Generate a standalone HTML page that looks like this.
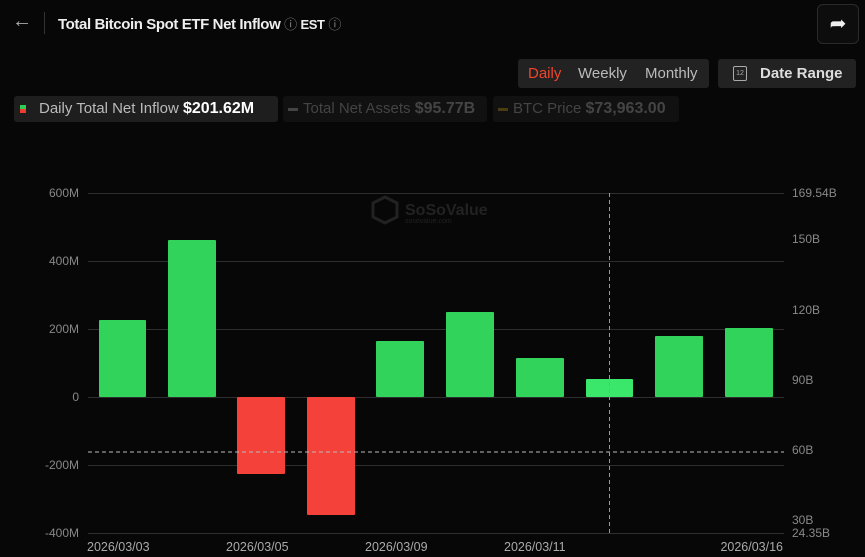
<!DOCTYPE html>
<html><head><meta charset="utf-8"><style>
body{margin:0;width:865px;height:557px;background:#070707;font-family:"Liberation Sans",sans-serif;overflow:hidden;position:relative;color:#ddd}
.a{position:absolute;white-space:nowrap}
</style></head><body>
<div class="a" style="left:12px;top:10px;font-size:20px;color:#aaa">&#8592;</div>
<div class="a" style="left:44px;top:12px;width:1px;height:22px;background:#333"></div>
<div class="a" style="left:58px;top:14px;font-size:15px;font-weight:bold;color:#eee;letter-spacing:-0.4px">Total Bitcoin Spot ETF Net Inflow <span style="font-weight:normal;color:#888;font-size:13px">ⓘ</span> <span style="font-size:13px">EST</span> <span style="font-weight:normal;color:#888;font-size:13px">ⓘ</span></div>
<div class="a" style="left:817px;top:4px;width:40px;height:38px;border:1px solid #2a2a2a;border-radius:6px;background:#0d0d0d;color:#eee;font-size:20px;text-align:center;line-height:38px">&#10150;</div>
<div class="a" style="left:518px;top:59px;width:191px;height:29px;background:#222;border-radius:3px;font-size:15px;line-height:29px">
<span style="position:absolute;left:10px;color:#f0442d">Daily</span><span style="position:absolute;left:60px;color:#bbb">Weekly</span><span style="position:absolute;left:127px;color:#bbb">Monthly</span></div>
<div class="a" style="left:718px;top:59px;width:138px;height:29px;background:#222;border-radius:3px;font-size:15px;line-height:29px;color:#ddd;font-weight:bold">
<span style="position:absolute;left:15px;top:7px;width:12px;height:13px;border:1.5px solid #aaa;border-radius:2px;font-size:7px;line-height:14px;text-align:center;font-weight:normal;color:#aaa">12</span>
<span style="position:absolute;left:42px">Date Range</span></div>
<div class="a" style="left:14px;top:96px;width:264px;height:26px;background:#1e1e1e;border-radius:3px;font-size:15px;line-height:26px;color:#bbb">
<span style="position:absolute;left:6px;top:9px;width:6px;height:4px;background:#2ecc55"></span><span style="position:absolute;left:6px;top:13px;width:6px;height:4px;background:#f03c30"></span>
<span style="position:absolute;left:25px">Daily Total Net Inflow <b style="color:#fff;font-size:16px">$201.62M</b></span></div>
<div class="a" style="left:283px;top:96px;width:204px;height:26px;background:#111;border-radius:3px;font-size:15px;line-height:26px;color:#444"><span style="position:absolute;left:5px;top:12px;width:10px;height:3px;background:#444"></span><span style="position:absolute;left:20px">Total Net Assets <b style="font-size:16px">$95.77B</b></span></div>
<div class="a" style="left:493px;top:96px;width:186px;height:26px;background:#111;border-radius:3px;font-size:15px;line-height:26px;color:#444"><span style="position:absolute;left:5px;top:12px;width:10px;height:3px;background:#4a3d14"></span><span style="position:absolute;left:20px">BTC Price <b style="font-size:16px">$73,963.00</b></span></div>
<svg class="a" style="left:0;top:0" width="865" height="557">
<g stroke="#2e2e2e" stroke-width="1">
<line x1="88" x2="784" y1="193.5" y2="193.5"/><line x1="88" x2="784" y1="261.5" y2="261.5"/><line x1="88" x2="784" y1="329.5" y2="329.5"/><line x1="88" x2="784" y1="397.5" y2="397.5"/><line x1="88" x2="784" y1="465.5" y2="465.5"/><line x1="88" x2="784" y1="533.5" y2="533.5"/></g>
<g font-size="12" fill="#888" text-anchor="end" font-family="Liberation Sans">
<text x="79" y="197">600M</text><text x="79" y="265">400M</text><text x="79" y="333">200M</text><text x="79" y="401">0</text><text x="79" y="469">-200M</text><text x="79" y="537">-400M</text></g>
<g font-size="12" fill="#888" font-family="Liberation Sans">
<text x="792" y="197">169.54B</text><text x="792" y="243">150B</text><text x="792" y="314">120B</text><text x="792" y="384">90B</text><text x="792" y="454">60B</text><text x="792" y="524">30B</text><text x="792" y="537">24.35B</text></g>
<g font-size="12.5" fill="#aaa" font-family="Liberation Sans">
<text x="87" y="551">2026/03/03</text><text x="226" y="551">2026/03/05</text><text x="365" y="551">2026/03/09</text><text x="504" y="551">2026/03/11</text><text x="783" y="551" text-anchor="end">2026/03/16</text></g>
<g fill="#31d35a">
<rect x="99" y="320" width="47" height="77" rx="1"/><rect x="168" y="240" width="48" height="157" rx="1"/>
<rect x="376" y="341" width="48" height="56" rx="1"/><rect x="446" y="312" width="48" height="85" rx="1"/><rect x="516" y="358" width="48" height="39" rx="1"/>
<rect x="655" y="336" width="48" height="61" rx="1"/><rect x="725" y="328" width="48" height="69" rx="1"/></g>
<rect x="586" y="379" width="47" height="18" rx="1" fill="#3be76a"/>
<g fill="#f4423a"><rect x="237" y="397" width="48" height="77" rx="1"/><rect x="307" y="397" width="48" height="118" rx="1"/></g>
<line x1="88" x2="784" y1="452" y2="452" stroke="#bbb" stroke-dasharray="4,3"/>
<line x1="609.5" x2="609.5" y1="193" y2="533" stroke="#999" stroke-dasharray="4,3"/>
<text x="405" y="215" font-size="16" font-weight="bold" fill="#222" font-family="Liberation Sans">SoSoValue</text>
<text x="405" y="223" font-size="7" fill="#222" font-family="Liberation Sans">sosovalue.com</text>
<polygon points="385,197 397,203 397,217 385,223 373,217 373,203" fill="none" stroke="#222" stroke-width="3"/>
</svg>
</body></html>
